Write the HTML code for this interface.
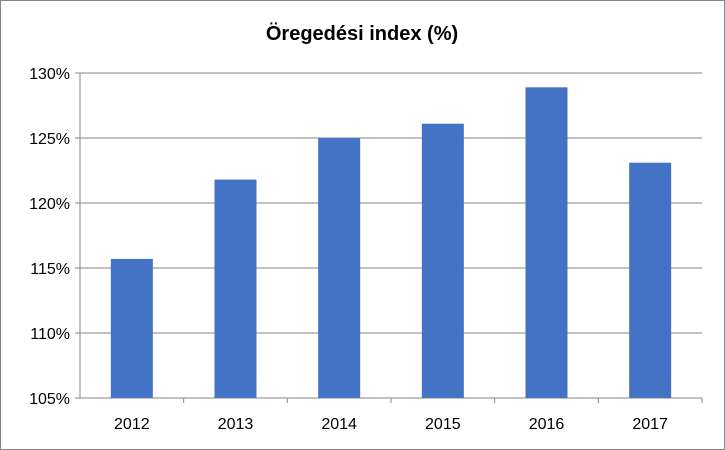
<!DOCTYPE html>
<html><head><meta charset="utf-8"><style>
body{margin:0;background:#fff;font-family:"Liberation Sans",sans-serif}
#c{position:absolute;left:0;top:0;width:723px;height:448px;border:1px solid #868686}
</style></head><body>
<div id="c">
<svg id="s" width="725" height="450" style="position:absolute;left:-1px;top:-1px">
<text x="362" y="40" text-anchor="middle" font-size="20" font-weight="bold" fill="#000">Öregedési index (%)</text>
</svg></div>
<script>
const categories=["2012","2013","2014","2015","2016","2017"];
const values=[115.7,121.8,125.0,126.1,128.9,123.1];
const ticks=[105,110,115,120,125,130];
const tickLabels=["105%","110%","115%","120%","125%","130%"];
const s=document.getElementById('s'),NS='http://www.w3.org/2000/svg';
const L=80,R=702,T=73,B=398,ymin=105,ymax=130;
const y=v=>B-(v-ymin)/(ymax-ymin)*(B-T);
const cw=(R-L)/categories.length;
const x=i=>L+cw*i;
function mk(t,a){const e=document.createElementNS(NS,t);for(const k in a)e.setAttribute(k,a[k]);s.appendChild(e);return e;}
ticks.forEach((t,i)=>{
 const g=mk('line',{x1:L-5,x2:R,y1:y(t),y2:y(t),stroke:'#868686','stroke-width':1});
 
 
 const tx=mk('text',{x:L-10,y:y(t)+6,'text-anchor':'end','font-size':16,fill:'#000'});
 tx.textContent=tickLabels[i];
 
 
});
const ax=mk('line',{x1:L,x2:L,y1:T,y2:B,stroke:'#868686'});


categories.forEach((c,i)=>{
 const tk=mk('line',{x1:x(i+1),x2:x(i+1),y1:B,y2:B+5,stroke:'#868686'});
 
 
 const bw=42,cx=x(i)+cw/2;
 const r=mk('rect',{x:cx-bw/2,y:y(values[i]),width:bw,height:B-y(values[i]),fill:'#4472c4'});
 
 
 const tx=mk('text',{x:cx,y:B+31,'text-anchor':'middle','font-size':16,fill:'#000'});
 tx.textContent=c;
 
 
});
</script></body></html>
